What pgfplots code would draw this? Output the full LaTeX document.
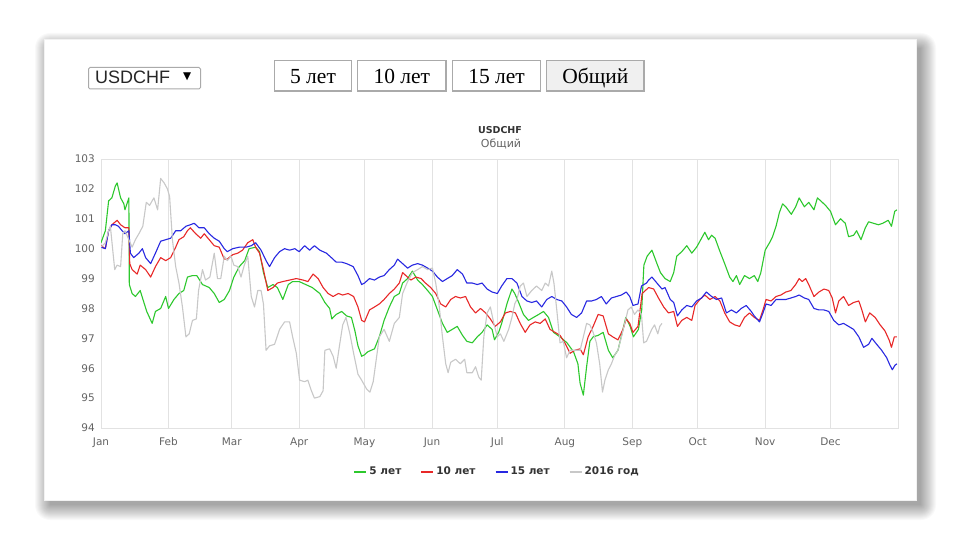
\documentclass[border=0pt]{standalone}
\usepackage{fontspec}
\setmainfont{DejaVu Sans}
\newfontfamily\seriffont{Liberation Serif}
\newfontfamily\arialfont{Liberation Sans}
\usepackage{pgfplots}
\pgfplotsset{compat=1.18}

\definecolor{cgreen}{RGB}{45,200,45}
\definecolor{cred}{RGB}{232,40,40}
\definecolor{cblue}{RGB}{40,40,225}
\definecolor{cgray}{RGB}{200,200,200}
\definecolor{gridc}{RGB}{226,226,226}
\definecolor{tickc}{RGB}{100,100,100}
\definecolor{legc}{RGB}{51,51,51}
\definecolor{btnc}{RGB}{170,170,170}
\definecolor{btnfill}{RGB}{240,240,240}

\begin{document}
\begin{tikzpicture}
\useasboundingbox (0,0) rectangle (960pt,-540pt);
\fill[white] (0,0) rectangle (960pt,-540pt);

% soft shadow of the card
\foreach \i in {0,...,15}{
  \fill[black,opacity=0.024,rounded corners=\i pt]
    ({(50-\i)*1pt},{(-48+\i)*1pt}) rectangle ({(921+\i)*1pt},{(-505-\i)*1pt});
}
\fill[white] (44pt,-39pt) rectangle (916pt,-500pt);
\draw[gray!10] (44pt,-39pt) rectangle (916pt,-500pt);

% dropdown
\draw[btnc,line width=1pt,rounded corners=1.5pt] (88.5pt,-67.5pt) rectangle (200.5pt,-89pt);
\node[anchor=base west,inner sep=0pt,font=\arialfont\fontsize{18}{18}\selectfont,text=black!85] at (95pt,-84pt) {USDCHF};
\node[inner sep=0pt,font=\fontsize{10.5}{10.5}\selectfont] at (187.2pt,-77pt) {▼};

% buttons
\draw[btnc,line width=1.2pt,fill=white] (274.5pt,-60.5pt) rectangle (351.5pt,-91pt);
\draw[btnc,line width=1.2pt,fill=white] (357.5pt,-60.5pt) rectangle (446pt,-91pt);
\draw[btnc,line width=1.2pt,fill=white] (452.5pt,-60.5pt) rectangle (540.5pt,-91pt);
\draw[btnc,line width=1.2pt,fill=btnfill] (546.5pt,-60.5pt) rectangle (644pt,-91pt);
\begin{scope}[every node/.style={anchor=base,inner sep=0pt,font=\seriffont\fontsize{21.5}{21.5}\selectfont}]
\node at (313pt,-84pt) {5 лет};
\node at (401.8pt,-84pt) {10 лет};
\node at (496.6pt,-84pt) {15 лет};
\node at (595.3pt,-84pt) {Общий};
\end{scope}

% titles
\node[inner sep=0pt,font=\bfseries\fontsize{9.5}{9.5}\selectfont,text=legc] at (500pt,-130pt) {USDCHF};
\node[inner sep=0pt,font=\fontsize{11}{11}\selectfont,text=tickc] at (501pt,-143.5pt) {Общий};

\begin{axis}[
  at={(101pt,-428pt)}, anchor=south west,
  scale only axis, width=797pt, height=269pt,
  xmin=0, xmax=366, ymin=94, ymax=103,
  xtick={0,31,60,91,121,152,182,213,244,274,305,335},
  xticklabels={Jan,Feb,Mar,Apr,May,Jun,Jul,Aug,Sep,Oct,Nov,Dec},
  ytick={94,95,...,103},
  xmajorgrids,
  major grid style={gridc,line width=1pt},
  axis line style={gridc,line width=1pt},
  tick style={draw=none},
  ticklabel style={font=\fontsize{10.5}{10.5}\selectfont,text=tickc},
  yticklabel style={inner sep=0pt,xshift=-6pt},
  xticklabel style={inner sep=0pt,yshift=-9pt,text height=7.8pt,text depth=2pt},
  /pgf/number format/assume math mode=true,
  every axis plot/.append style={line width=1.1pt,line join=round},
  legend columns=-1,
  legend image code/.code={\draw[#1,line width=2pt] (0pt,0pt) -- (12pt,0pt);},
  legend style={at={(axis description cs:0.497,-0.1625)},anchor=center,
    draw=none,fill=none,font=\bfseries\fontsize{10.5}{10.5}\selectfont,text=legc,
    /tikz/every even column/.append style={column sep=17pt}},
]
\addplot[cgreen] coordinates {
(0,100.2)(2,100.6)(3.5,101.6)(5,101.7)(6.6,102.1)(7.4,102.2)(9,101.7)(10.5,101.5)(11,101.3)(12.8,101.7)
(13,98.8)(14.3,98.5)(15.8,98.4)(18,98.6)(19.7,98.2)(21,97.9)(23.5,97.5)(25,97.9)(27.4,98.0)(29.7,98.4)
(31,98.0)(33.5,98.3)(35.8,98.5)(38,98.6)(39.7,99.05)(42,99.1)(44,99.1)(46.6,98.8)(49.7,98.7)(52,98.5)
(54.3,98.2)(56.6,98.3)(59,98.6)(61,99.05)(63.5,99.4)(66,99.6)(68,100.0)(71,100.05)(72.8,99.9)(74.6,99.2)
(76.6,98.7)(79,98.8)(81,98.7)(83.5,98.3)(86,98.8)(88,98.9)(91,98.9)(94,98.8)(97,98.7)(100.5,98.5)
(102.8,98.2)(105,98.0)(106,97.65)(108,97.8)(110.5,97.9)(112.8,97.75)(115,97.7)(116.6,97.25)(118,96.75)(119.7,96.4)
(121,96.45)(122.5,96.55)(125.6,96.65)(127.8,97.05)(130,97.6)(132.4,98.05)(134.7,98.4)(137,98.5)(138.5,98.85)(140.8,99.0)
(143,99.25)(145.4,98.95)(147.6,98.8)(150,98.6)(152.2,98.4)(154.5,97.95)(156.8,97.5)(159,97.2)(161.3,97.3)(163.6,97.4)
(166,97.1)(168,96.9)(170.5,96.85)(172.8,97.05)(175,97.2)(177.3,97.45)(179.6,97.3)(180.7,96.95)(182.6,97.2)(184,97.5)
(186.4,98.15)(188.7,98.65)(190,98.5)(191.8,98.2)(194,97.8)(196.3,97.6)(198.6,97.7)(201,97.8)(203.2,97.9)(205.5,97.7)
(207.8,97.2)(210.8,97.05)(214,96.85)(217,96.55)(219,96.15)(220,95.5)(221.5,95.1)(223,96.05)(224.5,96.9)(226,97.05)
(228.3,97.1)(230.6,97.2)(233,96.6)(235,96.35)(237.4,96.6)(239.7,97.3)(241,97.7)(243,97.4)(244.5,97.05)(246.8,97.3)
(248.3,97.95)(249.3,99.45)(250.8,99.75)(253,99.95)(255.3,99.5)(256.9,99.2)(259,99.0)(261.4,98.9)(263,99.2)(264.4,99.75)
(266.7,99.9)(269,100.1)(271.3,99.85)(273.5,100.05)(275.8,100.35)(277.3,100.55)(279,100.3)(280.4,100.45)(282,100.35)(284,99.95)
(286.4,99.5)(288.7,99.05)(290.2,98.9)(291.8,99.1)(293.3,98.8)(295.5,99.1)(297.8,99.0)(300,99.1)(301.6,98.9)(303,99.2)
(305,99.95)(307,100.2)(308.4,100.4)(310,100.75)(311.5,101.2)(313,101.5)(314.5,101.4)(317,101.15)(319,101.4)(320.6,101.7)
(323,101.4)(325,101.55)(327.4,101.3)(329,101.7)(330.5,101.6)(332.7,101.45)(335,101.25)(337.3,100.8)(339.6,101.0)(341.8,100.85)
(343.3,100.4)(345.6,100.45)(347,100.6)(349,100.3)(351,100.7)(352.5,100.9)(354.7,100.85)(357,100.8)(359,100.85)(361.5,100.95)
(363,100.75)(364.5,101.25)(365.5,101.3)
};
\addlegendentry{5 лет}
\addplot[cred] coordinates {
(0,100.1)(2,100.0)(3.5,100.6)(5,100.8)(7.4,100.95)(9,100.8)(11,100.7)(12.8,100.7)(13.2,99.5)(14.3,99.3)
(16.6,99.15)(18,99.45)(20.5,99.3)(22.8,99.05)(25,99.4)(27.4,99.7)(29.7,99.6)(32,99.7)(34.3,100.05)(35.8,100.3)
(38,100.4)(39.7,100.6)(41,100.7)(43.5,100.5)(45.8,100.35)(47.4,100.5)(49.7,100.3)(52,100.1)(54.3,100.05)(56.6,99.65)
(58,99.65)(60.5,99.8)(62.8,99.85)(65,99.95)(67.4,100.2)(69.7,100.3)(71,100.05)(72.8,99.85)(74.6,99.3)(76.6,98.6)
(79,98.7)(81,98.85)(83.5,98.9)(86.6,98.95)(89.7,99.0)(92.8,98.95)(95,98.9)(97.4,99.15)(99.7,99.0)(102,98.7)
(104.3,98.5)(106.6,98.4)(109,98.5)(111,98.45)(113.5,98.5)(116,98.4)(118,98.05)(119.7,97.6)(121,97.55)(123.3,97.95)
(125.6,98.05)(127.8,98.15)(130,98.3)(132.4,98.5)(134.7,98.65)(137,98.85)(138.5,99.2)(140,99.1)(142.3,98.95)(144.6,99.05)
(147,99.0)(149,98.85)(151.4,98.7)(153.7,98.5)(156,98.15)(158.3,98.05)(160.6,98.3)(162.8,98.4)(165,98.35)(167.4,98.4)
(169.7,98.05)(172,97.85)(174.3,98.0)(176.6,97.85)(178.8,97.65)(181,97.4)(183.4,97.55)(185.7,97.85)(188,97.9)(190.3,97.85)
(192.5,97.5)(194.8,97.2)(197,97.45)(199.4,97.55)(201.7,97.5)(204,97.65)(206.2,97.3)(208.5,97.2)(210.8,97.1)(213,96.85)
(215.4,96.5)(217.6,96.6)(220,96.65)(221.5,96.45)(223.7,97.05)(226,97.4)(228.3,97.8)(230.6,97.75)(233,97.15)(235,97.05)
(237.4,96.95)(239.7,97.3)(241.2,97.65)(242.8,97.5)(244.3,97.2)(246.6,97.4)(248.5,98.5)(251.5,98.7)(253.8,98.65)(256,98.35)
(258.4,98.05)(260.6,97.85)(263,97.9)(264.7,97.4)(266.7,97.6)(269,97.7)(271.3,97.6)(272.8,98.1)(275,98.3)(277.3,98.45)
(279.6,98.3)(282,98.4)(284.2,98.25)(286.4,97.85)(288.7,97.55)(291,97.45)(293.3,97.4)(295.5,97.7)(297.8,97.85)(300,97.7)
(302.4,97.6)(304,97.95)(305.4,98.3)(307.7,98.25)(310,98.4)(312.2,98.45)(314.5,98.55)(316.8,98.6)(319,98.8)(320.6,99.0)
(322,98.9)(323.6,99.0)(325,98.8)(327.4,98.4)(329.7,98.55)(332,98.65)(334.2,98.6)(335.8,98.35)(337.3,97.85)(338.8,98.25)
(341,98.4)(343.3,98.1)(345.6,98.2)(348,98.25)(349.4,97.95)(351,97.55)(353,97.85)(355.5,97.7)(357.8,97.45)(360,97.25)
(361.9,96.95)(363,96.7)(364.3,97.05)(365.5,97.05)
};
\addlegendentry{10 лет}
\addplot[cblue] coordinates {
(0,100.05)(2,100.0)(3.5,100.6)(5,100.8)(6.6,100.8)(8,100.75)(9.7,100.6)(11,100.5)(12.8,100.6)(13.5,99.85)
(15,99.7)(17.4,99.85)(19,100.0)(20.5,99.7)(22.8,99.5)(25,99.85)(27.4,100.25)(29.7,100.3)(32,100.35)(34.3,100.6)
(36.6,100.6)(39,100.75)(41,100.8)(42.8,100.85)(45,100.7)(47.4,100.7)(49.7,100.5)(52,100.35)(54.3,100.25)(56.6,100.0)
(58,99.9)(60.5,100.0)(63.5,100.05)(66.6,100.05)(69,100.1)(71,100.2)(73.5,99.95)(75.8,99.6)(77.4,99.4)(79.7,99.7)
(82,99.9)(84.3,100.0)(86.6,99.95)(89,100.0)(91,99.9)(93.5,100.1)(95.8,99.95)(98,100.1)(100.5,99.95)(103.5,99.85)
(105.8,99.7)(108,99.55)(110.5,99.55)(112.8,99.5)(115.8,99.4)(118,99.1)(119.7,98.8)(121,98.85)(123.3,99.0)(125.6,98.95)
(127.8,99.05)(130,99.1)(132.4,99.3)(134.7,99.45)(136.2,99.65)(138.5,99.5)(140.8,99.35)(143,99.45)(145.4,99.5)(147.6,99.45)
(150,99.35)(152.2,99.25)(154.5,99.05)(156.8,98.9)(159,99.0)(161.3,99.1)(163.6,99.3)(166,99.15)(168,98.85)(170.5,98.85)
(172.8,98.8)(175,98.85)(177.3,98.65)(179.6,98.55)(182,98.5)(184,98.75)(186.4,99.0)(188.7,99.0)(191,98.85)(193.3,98.4)
(195.6,98.25)(197.8,98.2)(200,98.25)(202.4,98.05)(204.7,98.3)(207,98.4)(209.3,98.3)(211.6,98.25)(213.8,98.05)(216,97.8)
(218.4,97.7)(220.7,97.85)(223,98.25)(225.3,98.25)(227.5,98.3)(229.8,98.4)(232,98.15)(234.4,98.35)(236.7,98.4)(239,98.45)
(241.2,98.55)(242.8,98.4)(244.3,98.1)(246.6,98.15)(248.2,98.75)(250.5,98.85)(251.5,98.95)(253,99.05)(255.3,98.85)(257.6,98.65)
(259,98.7)(261.4,98.3)(263,98.2)(264.7,97.75)(266.7,97.95)(269,98.1)(271.3,98.05)(273.5,98.25)(275.8,98.35)(278,98.55)
(280.4,98.4)(282.6,98.3)(285,98.35)(287.2,97.85)(289.5,97.95)(291.8,97.85)(294,98.0)(296.3,98.1)(298.6,97.9)(300,97.75)
(302.4,97.55)(304,97.85)(305.4,98.15)(307.7,98.1)(310,98.3)(312.2,98.3)(314.5,98.3)(316.8,98.35)(319,98.4)(320.6,98.45)
(323,98.35)(325,98.3)(327.4,98.0)(329.7,97.95)(332,97.95)(334.2,97.9)(336.5,97.6)(338.8,97.45)(341,97.5)(343.3,97.4)
(345.6,97.3)(348,97.05)(350.2,96.7)(352.5,96.8)(354,97.0)(356.2,96.8)(358.5,96.6)(360.8,96.35)(362.3,96.1)(363.4,95.95)
(364.6,96.1)(365.5,96.15)
};
\addlegendentry{15 лет}
\addplot[cgray] coordinates {
(0,100.05)(2,100.2)(3.5,100.6)(4.3,100.75)(5.4,99.95)(6.3,99.3)(7.4,99.45)(9,99.4)(10,100.5)(11,100.6)
(12.8,100.3)(14.3,100.05)(15.8,100.3)(17.4,100.5)(19.2,100.75)(20.8,101.55)(22.3,101.45)(24.3,101.7)(26,101.3)(27.4,102.35)
(29,102.2)(30.5,102.0)(31.5,101.75)(32.8,100.3)(34.3,99.4)(35.8,98.85)(37.4,98.05)(39,97.05)(40.5,97.15)(42,97.6)
(43.8,97.65)(44.8,98.6)(46.6,99.3)(48,98.95)(50,99.05)(52,99.85)(53.5,99.0)(55,99.0)(56.6,99.75)(58,99.6)
(59.7,99.75)(61,99.45)(62.8,99.4)(64.3,99.05)(65.8,99.45)(67.4,99.75)(69,98.4)(70.5,98.05)(72,98.6)(73.5,98.6)
(74.6,98.15)(75.8,96.6)(77.4,96.75)(79.7,96.8)(82,97.3)(84.3,97.55)(86.6,97.55)(88,97.05)(89.7,96.5)(91.2,95.6)
(93.5,95.55)(95,95.6)(96.6,95.25)(98,95.0)(100.5,95.05)(102,95.25)(102.8,96.6)(105,96.65)(106.6,96.4)(108,96.0)
(109.4,96.7)(111,97.45)(112.5,97.7)(114.3,97.15)(116,96.5)(118,95.8)(119.7,95.6)(122,95.3)(123.5,95.2)(125,95.55)
(126.6,96.4)(127.8,97.05)(130,97.3)(132.4,96.9)(134.7,97.5)(137,97.7)(138.5,98.5)(140.8,98.9)(143,99.2)(145.4,99.3)
(147.6,99.4)(150,99.3)(152.2,99.35)(153.7,98.85)(155.2,98.15)(156.8,97.05)(158.3,96.15)(159.4,95.85)(160.6,96.2)(162.8,96.3)
(165,96.15)(167,96.3)(168,95.85)(170.5,95.85)(172,96.05)(173.5,95.7)(174.6,95.6)(175.8,97.05)(177.3,97.85)(178.8,98.05)
(180.4,97.5)(182,97.05)(183.4,97.15)(185,96.9)(187.2,97.3)(188.7,97.7)(190,98.15)(191,98.3)(192.5,98.75)(194,98.85)
(195.6,98.4)(197.8,98.6)(200,98.75)(202.4,98.6)(204,98.85)(205.5,98.75)(207,99.25)(208,98.85)(209.3,97.95)(210.8,96.85)
(212.3,96.9)(213.8,96.35)(215.4,96.6)(217.6,96.6)(220,96.6)(221.5,97.05)(223,97.5)(224.5,97.45)(226,97.2)(227.5,96.85)
(229,96.15)(230.3,95.2)(231.4,95.6)(233,95.95)(234.4,96.15)(236,96.45)(237.4,96.6)(239,97.05)(240.5,97.5)(242,97.95)
(243.5,98.05)(245,97.8)(246.6,97.95)(248.2,97.8)(249.2,96.85)(250.5,96.9)(252.9,97.3)(254.2,97.45)(255.7,97.15)(256.6,97.4)
(257.6,97.5)
};
\addlegendentry{2016 год}
\end{axis}
\end{tikzpicture}
\end{document}
